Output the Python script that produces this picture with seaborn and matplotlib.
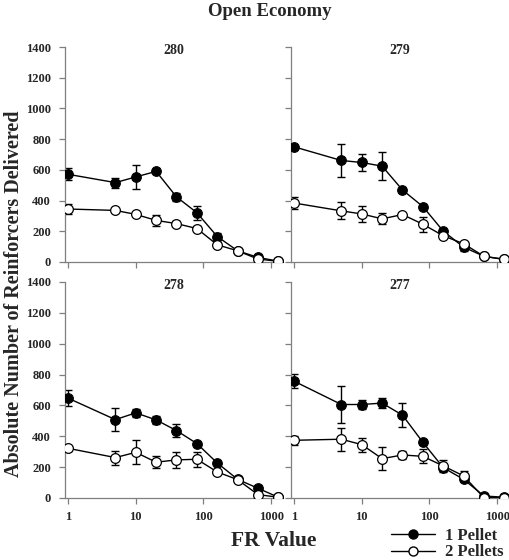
import numpy as np
import pandas as pd
import matplotlib
matplotlib.use("Agg")
import matplotlib.pyplot as plt
import seaborn as sns
from matplotlib.lines import Line2D

# ── Data ──────────────────────────────────────────────
fr_values = [1, 5, 10, 20, 40, 80, 160, 320, 640, 1280]
subjects = ["280", "279", "278", "277"]

one_pellet = {
    "280": [571, 517, 554, 590, 424, 321, 166, 73, 30, 5],
    "279": [750, 661, 648, 624, 469, 361, 201, 97, 37, 17],
    "278": [647, 508, 552, 506, 437, 353, 227, 121, 63, 5],
    "277": [757, 606, 606, 615, 537, 361, 197, 121, 13, 5],
}
one_pellet_err = {
    "280": [40, 33, 78, 10, 27, 45, 25, 8, 8, 3],
    "279": [12, 108, 58, 90, 12, 12, 12, 25, 8, 5],
    "278": [50, 75, 28, 27, 40, 8, 8, 8, 8, 3],
    "277": [45, 120, 28, 32, 78, 8, 15, 10, 5, 3],
}
two_pellets = {
    "280": [345, 336, 310, 271, 250, 218, 112, 73, 19, 5],
    "279": [384, 333, 313, 281, 309, 246, 171, 119, 37, 17],
    "278": [322, 262, 296, 232, 247, 251, 169, 119, 22, 5],
    "277": [374, 381, 346, 255, 279, 270, 208, 143, 2, 2],
}
two_pellets_err = {
    "280": [35, 8, 10, 38, 15, 15, 15, 8, 5, 3],
    "279": [40, 55, 50, 35, 12, 50, 10, 10, 5, 5],
    "278": [15, 45, 78, 38, 53, 50, 8, 8, 5, 3],
    "277": [30, 75, 45, 75, 28, 45, 38, 35, 3, 3],
}

# ── Setup ──────────────────────────────────────────────
sns.set_style("ticks")
plt.rcParams["font.family"] = ["Liberation Serif", "DejaVu Serif"]
plt.rcParams["font.weight"] = "bold"

W, H = 509, 560
fig = plt.figure(figsize=(W / 100, H / 100), dpi=100)

# axes boxes in pixels: (left, top, right, bottom)
boxes = {
    "280": (65, 47, 283, 262),
    "279": (291, 47, 509, 262),
    "278": (65, 282, 283, 498),
    "277": (291, 282, 509, 498),
}
grey = "#7f7f7f"

for i, subj in enumerate(subjects):
    l, t, r, b = boxes[subj]
    ax = fig.add_axes([l / W, 1 - b / H, (r - l) / W, (b - t) / H])

    df = pd.DataFrame({
        "FR": fr_values * 2,
        "value": one_pellet[subj] + two_pellets[subj],
        "group": ["1 Pellet"] * len(fr_values) + ["2 Pellets"] * len(fr_values),
    })

    ax.errorbar(fr_values, one_pellet[subj], yerr=one_pellet_err[subj], fmt="none",
                ecolor="black", elinewidth=1, capsize=3, capthick=1, zorder=2)
    ax.errorbar(fr_values, two_pellets[subj], yerr=two_pellets_err[subj], fmt="none",
                ecolor="black", elinewidth=1, capsize=3, capthick=1, zorder=2)

    sns.lineplot(data=df[df["group"] == "1 Pellet"], x="FR", y="value", ax=ax,
                 color="black", lw=1, marker="o", markersize=7,
                 markerfacecolor="black", markeredgecolor="black", zorder=3)
    sns.lineplot(data=df[df["group"] == "2 Pellets"], x="FR", y="value", ax=ax,
                 color="black", lw=1, marker="o", markersize=7,
                 markerfacecolor="white", markeredgecolor="black",
                 markeredgewidth=0.9, zorder=4)

    ax.set_xscale("log")
    ax.set_xlim(0.9, 1500)
    ax.set_ylim(0, 1400)
    ax.set_xticks([1, 10, 100, 1000])
    ax.set_xticklabels(["1", "10", "100", "1000"])
    ax.xaxis.set_minor_locator(matplotlib.ticker.NullLocator())
    ax.set_yticks(range(0, 1401, 200))
    ax.set_xlabel("")
    ax.set_ylabel("")
    sns.despine(ax=ax)
    for s in ["left", "bottom"]:
        ax.spines[s].set_color(grey)
        ax.spines[s].set_linewidth(0.9)
    ax.tick_params(direction="out", length=4, width=0.9, color=grey,
                   labelsize=9, pad=6)
    ax.tick_params(axis="x", pad=5)
    for lab in ax.get_xticklabels() + ax.get_yticklabels():
        lab.set_fontweight("bold")
    if i < 2:
        ax.tick_params(labelbottom=False)
    if i % 2 == 1:
        ax.tick_params(labelleft=False)
    ax.set_facecolor("none")
    ax.text(0.5, 0.985, subj, transform=ax.transAxes, ha="center", va="center",
            fontsize=10, fontweight="bold")

fig.text(270 / W, 1 - 12 / H, "Open Economy", ha="center", va="center",
         fontsize=13.5, fontweight="bold")
fig.text(14 / W, 1 - 294 / H, "Absolute Number of Reinforcers Delivered",
         ha="center", va="center", rotation=90, fontsize=14.5, fontweight="bold")
fig.text(274 / W, 1 - 541 / H, "FR Value", ha="center", va="center",
         fontsize=15.5, fontweight="bold")

handles = [
    Line2D([], [], color="black", lw=1, marker="o", markersize=6.5,
           markerfacecolor="black", markeredgecolor="black"),
    Line2D([], [], color="black", lw=1, marker="o", markersize=6.5,
           markerfacecolor="white", markeredgecolor="black"),
]
fig.legend(handles, ["1 Pellet", "2 Pellets"], loc="center left",
           bbox_to_anchor=(383 / W, 1 - 544 / H), frameon=False,
           prop={"size": 12, "weight": "bold"}, handlelength=2.6,
           labelspacing=0.05, handletextpad=0.6, borderpad=0)

fig.savefig("out.png", dpi=100)
